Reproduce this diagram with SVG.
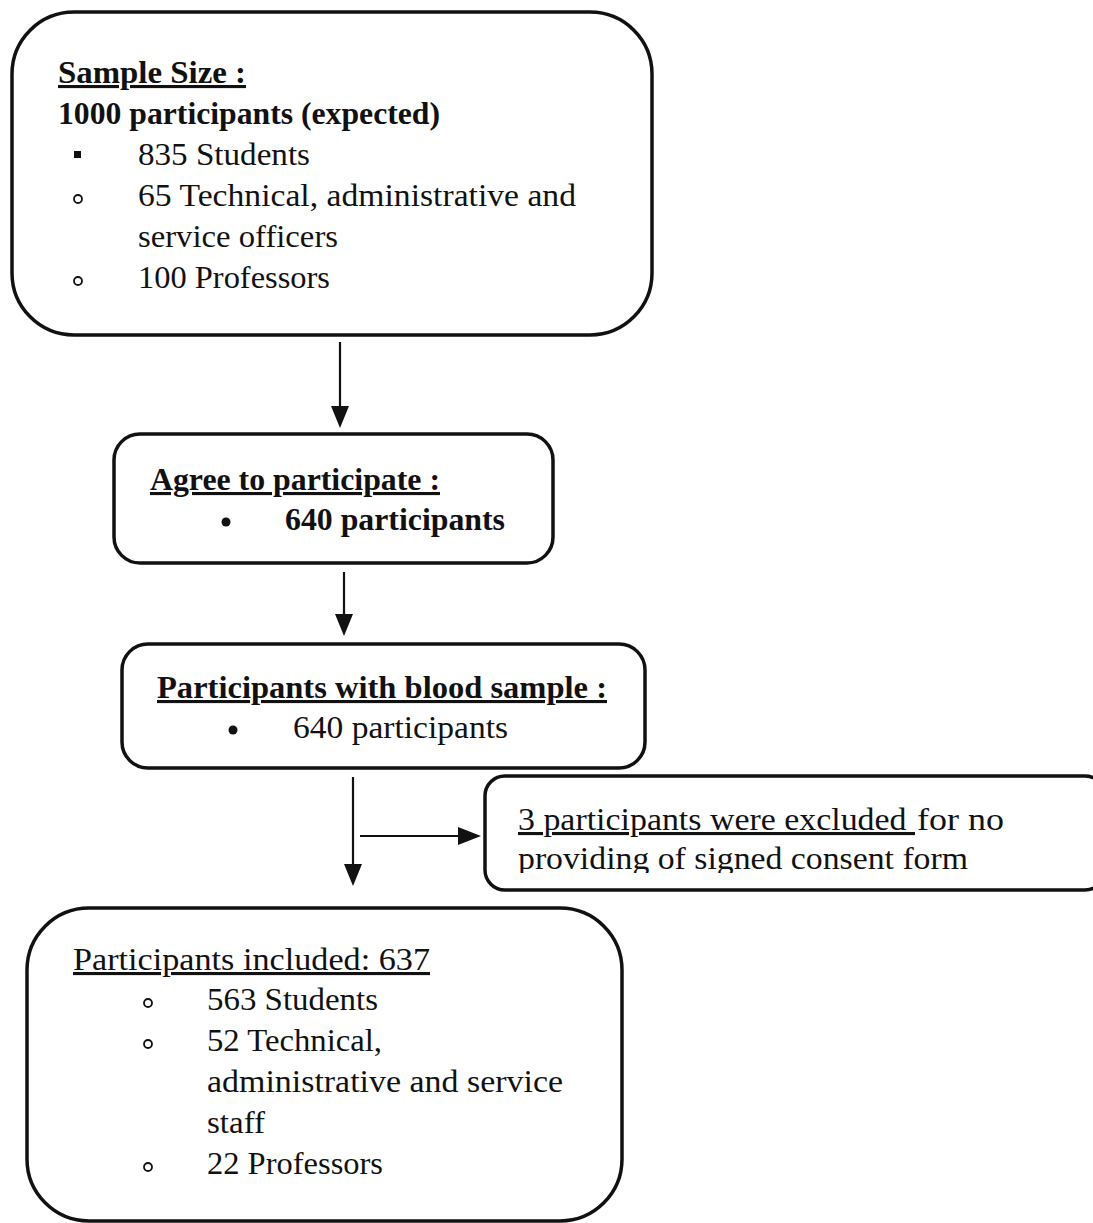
<svg xmlns="http://www.w3.org/2000/svg" width="1093" height="1223" viewBox="0 0 1093 1223">
<defs>
<style>
.box{fill:#fff;stroke:#111;stroke-width:3.5}
.t{font-family:"Liberation Serif","Times New Roman",serif;font-size:31px;fill:#111}
.b{font-weight:bold}
.u{text-decoration:underline}
.ln{stroke:#111;stroke-width:2.2;fill:none}
</style>
<clipPath id="c4"><rect x="485" y="776" width="608" height="97"/></clipPath>
</defs>
<rect width="1093" height="1223" fill="#fff"/>
<g id="connectors">
<line class="ln" x1="340" y1="342" x2="340" y2="408"/>
<path d="M331,406 L349,406 L340,428 z" fill="#111"/>
<line class="ln" x1="344" y1="572" x2="344" y2="616"/>
<path d="M335,614 L353,614 L344,636 z" fill="#111"/>
<line class="ln" x1="353" y1="777" x2="353" y2="866"/>
<path d="M344,864 L362,864 L353,886 z" fill="#111"/>
<line class="ln" x1="360" y1="836" x2="460" y2="836"/>
<path d="M458,827 L458,845 L481,836 z" fill="#111"/>
</g>
<g id="node1">
<rect class="box" x="12" y="12" width="640" height="323" rx="62" ry="62"/>
<text class="t b u" x="58" y="83" textLength="188" lengthAdjust="spacingAndGlyphs">Sample Size :</text>
<text class="t b" x="58" y="124" textLength="382" lengthAdjust="spacingAndGlyphs">1000 participants (expected)</text>
<rect x="74" y="151" width="7" height="7" fill="#111"/>
<text class="t" x="138" y="165" textLength="172" lengthAdjust="spacingAndGlyphs">835 Students</text>
<circle cx="78" cy="199" r="4" fill="none" stroke="#111" stroke-width="1.8"/>
<text class="t" x="138" y="206" textLength="438" lengthAdjust="spacingAndGlyphs">65 Technical, administrative and</text>
<text class="t" x="138" y="247" textLength="200" lengthAdjust="spacingAndGlyphs">service officers</text>
<circle cx="78" cy="281" r="4" fill="none" stroke="#111" stroke-width="1.8"/>
<text class="t" x="138" y="288" textLength="192" lengthAdjust="spacingAndGlyphs">100 Professors</text>
</g>
<g id="node2">
<rect class="box" x="114" y="434" width="439" height="129" rx="26" ry="26"/>
<text class="t b u" x="150" y="490" textLength="290" lengthAdjust="spacingAndGlyphs">Agree to participate :</text>
<circle cx="226" cy="522" r="4.5" fill="#111"/>
<text class="t b" x="285" y="530" textLength="220" lengthAdjust="spacingAndGlyphs">640 participants</text>
</g>
<g id="node3">
<rect class="box" x="122" y="644" width="523" height="124" rx="26" ry="26"/>
<text class="t b u" x="157" y="698" textLength="450" lengthAdjust="spacingAndGlyphs">Participants with blood sample :</text>
<circle cx="233" cy="730" r="4.5" fill="#111"/>
<text class="t" x="293" y="738" textLength="215" lengthAdjust="spacingAndGlyphs">640 participants</text>
</g>
<g id="node4">
<rect class="box" x="485" y="776" width="620" height="114" rx="20" ry="20"/>
<text class="t u" x="518" y="830" textLength="397" lengthAdjust="spacingAndGlyphs">3 participants were excluded&#160;</text>
<text class="t" x="917" y="830" textLength="87" lengthAdjust="spacingAndGlyphs">for no</text>
<text class="t" x="518" y="869" clip-path="url(#c4)" textLength="450" lengthAdjust="spacingAndGlyphs">providing of signed consent form</text>
</g>
<g id="node5">
<rect class="box" x="27" y="908" width="595" height="313" rx="62" ry="62"/>
<text class="t u" x="73" y="970" textLength="357" lengthAdjust="spacingAndGlyphs">Participants included: 637</text>
<circle cx="148" cy="1003" r="4" fill="none" stroke="#111" stroke-width="1.8"/>
<text class="t" x="207" y="1010" textLength="171" lengthAdjust="spacingAndGlyphs">563 Students</text>
<circle cx="148" cy="1044" r="4" fill="none" stroke="#111" stroke-width="1.8"/>
<text class="t" x="207" y="1051" textLength="175" lengthAdjust="spacingAndGlyphs">52 Technical,</text>
<text class="t" x="207" y="1092" textLength="356" lengthAdjust="spacingAndGlyphs">administrative and service</text>
<text class="t" x="207" y="1133" textLength="58" lengthAdjust="spacingAndGlyphs">staff</text>
<circle cx="148" cy="1167" r="4" fill="none" stroke="#111" stroke-width="1.8"/>
<text class="t" x="207" y="1174" textLength="176" lengthAdjust="spacingAndGlyphs">22 Professors</text>
</g>
</svg>
